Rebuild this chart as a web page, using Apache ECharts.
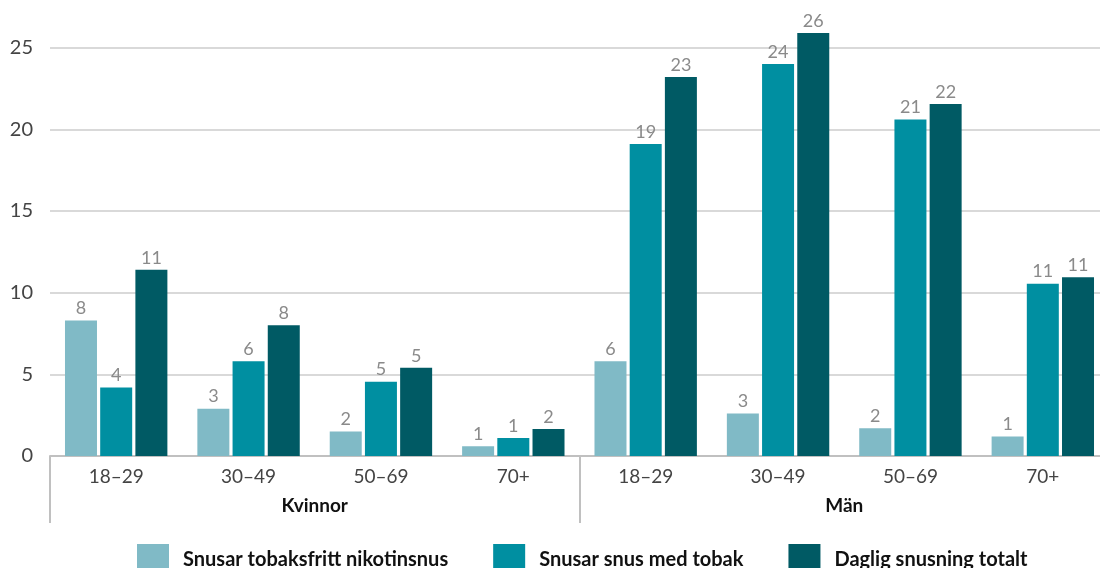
<!DOCTYPE html>
<html>
<head>
<meta charset="utf-8">
<script src="https://cdn.jsdelivr.net/npm/echarts@6/dist/echarts.min.js"></script>
<style>
html,body{margin:0;padding:0;background:#fff;}
#chart{width:1100px;height:568px;}
</style>
</head>
<body>
<div id="chart"></div>
<script>
// age groups, repeated for each sex
var ageGroups=['18–29','30–49','50–69','70+','18–29','30–49','50–69','70+'];
var sexGroups=['Kvinnor','Män'];
var seriesNames=['Snusar tobaksfritt nikotinsnus','Snusar snus med tobak','Daglig snusning totalt'];

var nikotinsnus=[8.3,2.9,1.5,0.6,5.8,2.6,1.7,1.2];
var snusTobak=[4.2,5.8,4.55,1.1,19.1,24.0,20.6,10.55];
var dagligTotalt=[11.4,8.0,5.4,1.65,23.2,25.9,21.55,10.95];

var colors=['#80bac6','#008fa1','#005a64'];
var fontName='Lato, "Noto Sans", sans-serif';

var chart=echarts.init(document.getElementById('chart'));

function barSeries(name,data,color){
    return {
        name:name,
        type:'bar',
        xAxisIndex:0,
        data:data,
        barWidth:32,
        barGap:'10%',
        itemStyle:{color:color},
        label:{
            show:true,
            position:'top',
            distance:3,
            color:'#8a8a8a',
            fontSize:18,
            fontFamily:fontName,
            formatter:function(p){return Math.round(p.value);}
        }
    };
}

var option={
    animation:false,
    textStyle:{fontFamily:fontName},
    grid:{left:50,right:-9,top:-34,bottom:112,containLabel:false,outerBoundsMode:'none'},
    legend:{
        left:132,
        top:539,
        itemWidth:32,
        itemHeight:32,
        itemGap:45,
        icon:'rect',
        textStyle:{
            fontSize:20,
            fontWeight:'bold',
            color:'#111',
            fontFamily:fontName,
            padding:[0,0,0,9]
        },
        data:seriesNames
    },
    xAxis:[
        {
            type:'category',
            data:ageGroups,
            position:'bottom',
            axisLine:{show:true,lineStyle:{color:'#c0c0c0',width:2}},
            axisTick:{show:false},
            axisLabel:{color:'#444',fontSize:19,margin:11,fontFamily:fontName}
        },
        {
            type:'category',
            data:sexGroups,
            position:'bottom',
            axisLine:{show:false},
            axisTick:{show:true,length:67,lineStyle:{color:'#c0c0c0',width:2}},
            axisLabel:{color:'#111',fontSize:19,fontWeight:'bold',margin:40,fontFamily:fontName}
        }
    ],
    yAxis:{
        type:'value',
        min:0,
        max:30,
        interval:5,
        axisLine:{show:false},
        axisTick:{show:false},
        axisLabel:{color:'#444',fontSize:20,margin:17,fontFamily:fontName},
        splitLine:{lineStyle:{color:'#cccccc',width:1.5}}
    },
    series:[
        barSeries(seriesNames[0],nikotinsnus,colors[0]),
        barSeries(seriesNames[1],snusTobak,colors[1]),
        barSeries(seriesNames[2],dagligTotalt,colors[2])
    ]
};
chart.setOption(option);
</script>
</body>
</html>
